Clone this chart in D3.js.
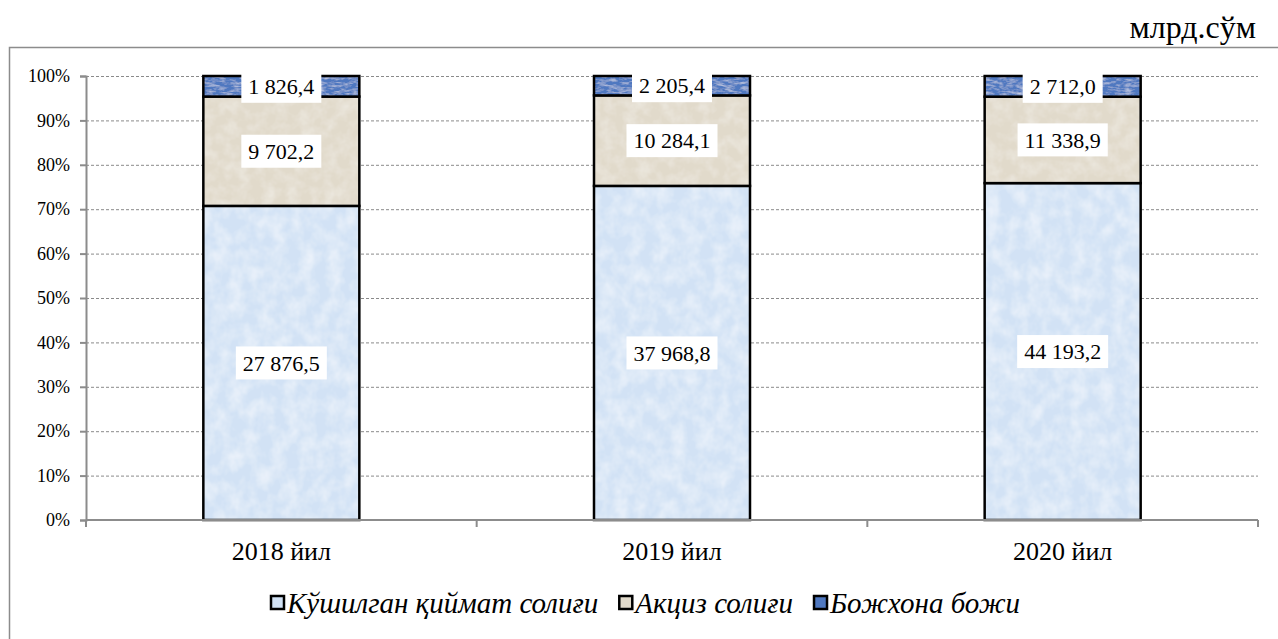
<!DOCTYPE html>
<html>
<head>
<meta charset="utf-8">
<script src="https://cdn.jsdelivr.net/npm/d3@7"></script>
<style>
  body { margin: 0; background: #fff; }
  svg text { font-family: "Liberation Serif", "Times New Roman", Times, serif; }
</style>
</head>
<body>
<div id="chart"></div>
<script>
// данные (млрд.сўм)
const years = ["2018 йил", "2019 йил", "2020 йил"];
const vatValues = [27876.5, 37968.8, 44193.2];
const exciseValues = [9702.2, 10284.1, 11338.9];
const customsValues = [1826.4, 2205.4, 2712.0];
const seriesNames = ["Кўшилган қиймат солиғи", "Акциз солиғи", "Божхона божи"];
const yTicks = [0, 0.1, 0.2, 0.3, 0.4, 0.5, 0.6, 0.7, 0.8, 0.9, 1];

const width = 1278, height = 639;
const margin = { left: 86, top: 76, bottom: 119 };
const plotRight = 1258;

const colors = ["#d2e2f5", "#e1dacb", "#4f78c0"];
const keys = ["vat", "excise", "customs"];

const table = years.map((y, i) => ({
  year: y, vat: vatValues[i], excise: exciseValues[i], customs: customsValues[i]
}));

const locale = d3.formatLocale({ decimal: ",", thousands: " ", grouping: [3], currency: ["", ""] });
const fmt = locale.format(",.1f");

const svg = d3.select("#chart").append("svg")
  .attr("width", width).attr("height", height);

// текстура заливки
const defs = svg.append("defs");
function noiseFilter(id, freq, alphaScale, alphaBias) {
  const f = defs.append("filter").attr("id", id)
    .attr("x", 0).attr("y", 0).attr("width", 1).attr("height", 1);
  f.append("feTurbulence").attr("type", "fractalNoise")
    .attr("baseFrequency", freq).attr("numOctaves", 3).attr("seed", 4).attr("result", "n");
  f.append("feColorMatrix").attr("in", "n").attr("type", "matrix")
    .attr("values", `0 0 0 0 1  0 0 0 0 1  0 0 0 0 1  0 0 0 ${alphaScale} ${alphaBias}`)
    .attr("result", "w");
  f.append("feComposite").attr("in", "w").attr("in2", "SourceGraphic").attr("operator", "in").attr("result", "t");
  const m = f.append("feMerge");
  m.append("feMergeNode").attr("in", "SourceGraphic");
  m.append("feMergeNode").attr("in", "t");
}
noiseFilter("tex0", "0.07 0.06", 0.9, -0.3);
noiseFilter("tex1", "0.08", 0.6, -0.22);
noiseFilter("tex2", "0.12 0.4", 1.0, -0.42);

// рамка
svg.append("rect")
  .attr("x", 9.5).attr("y", 47.5)
  .attr("width", 1400).attr("height", 800)
  .attr("fill", "none").attr("stroke", "#8c8c8c").attr("stroke-width", 1.5);

svg.append("text")
  .attr("x", 1256).attr("y", 38)
  .attr("text-anchor", "end")
  .style("font-size", "32px")
  .text("млрд.сўм");

const x = d3.scaleBand().domain(years).range([margin.left, plotRight]).paddingInner(0).paddingOuter(0);
const y = d3.scaleLinear().domain([0, 1]).range([height - margin.bottom, margin.top]);
const barW = 156;

// сетка
svg.append("g")
  .selectAll("line").data(yTicks.slice(1)).enter().append("line")
  .attr("x1", margin.left).attr("x2", plotRight)
  .attr("y1", d => y(d) + 0.5).attr("y2", d => y(d) + 0.5)
  .attr("stroke", "#8a8a8a").attr("stroke-width", 1).attr("stroke-dasharray", "3,2");

// столбцы
const stack = d3.stack().keys(keys).offset(d3.stackOffsetExpand);
const series = stack(table);

const layers = svg.append("g").selectAll("g").data(series).enter().append("g")
  .attr("fill", (d, i) => colors[i]);

layers.each(function (s, si) {
  d3.select(this).selectAll(".fill").data(s).enter().append("rect")
    .attr("class", "fill")
    .attr("x", d => x(d.data.year) + x.bandwidth() / 2 - barW / 2)
    .attr("y", d => y(d[1]))
    .attr("width", barW)
    .attr("height", d => y(d[0]) - y(d[1]))
    .attr("filter", `url(#tex${si})`);
});
layers.selectAll(".edge").data(d => d).enter().append("rect")
  .attr("class", "edge")
  .attr("x", d => x(d.data.year) + x.bandwidth() / 2 - barW / 2)
  .attr("y", d => y(d[1]))
  .attr("width", barW)
  .attr("height", d => y(d[0]) - y(d[1]))
  .attr("fill", "none")
  .attr("stroke", "#000").attr("stroke-width", 2.5);

// оси
const yAxis = svg.append("g")
  .attr("transform", `translate(${margin.left},0)`)
  .call(d3.axisLeft(y).tickValues(yTicks).tickFormat(d3.format(".0%")).tickSize(6).tickPadding(10));
yAxis.attr("font-family", null);
yAxis.select(".domain").attr("stroke", "#8c8c8c").attr("stroke-width", 2);
yAxis.selectAll(".tick line").attr("stroke", "#8c8c8c").attr("stroke-width", 2);
yAxis.selectAll("text").style("font-size", "18px").attr("fill", "#000");

const xAxisG = svg.append("g").attr("transform", `translate(0,${y(0)})`);
xAxisG.append("line")
  .attr("x1", margin.left).attr("x2", plotRight)
  .attr("stroke", "#8c8c8c").attr("stroke-width", 2);
const bounds = [margin.left].concat(years.map(d => x(d) + x.bandwidth()));
xAxisG.selectAll(".bt").data(bounds).enter().append("line")
  .attr("x1", d => d).attr("x2", d => d).attr("y1", 0).attr("y2", 7)
  .attr("stroke", "#8c8c8c").attr("stroke-width", 2);
xAxisG.selectAll(".cat").data(years).enter().append("text")
  .attr("x", d => x(d) + x.bandwidth() / 2)
  .attr("y", 40)
  .attr("text-anchor", "middle")
  .style("font-size", "26px")
  .text(d => d);

// подписи значений
const labels = [];
series.forEach((s, si) => {
  s.forEach(d => {
    labels.push({ year: d.data.year, value: d.data[keys[si]], mid: (y(d[0]) + y(d[1])) / 2 });
  });
});

const lg = svg.append("g").selectAll("g").data(labels).enter().append("g")
  .attr("transform", d => `translate(${x(d.year) + x.bandwidth() / 2},${d.mid})`);
lg.append("text")
  .attr("text-anchor", "middle")
  .attr("dy", "0.35em")
  .style("font-size", "22px")
  .text(d => fmt(d.value))
  .each(function () {
    const b = this.getBBox();
    d3.select(this.parentNode).insert("rect", "text")
      .attr("x", b.x - 7).attr("y", -16.5).attr("width", b.width + 14).attr("height", 33)
      .attr("fill", "#fff");
  });

// легенда — элементы подряд
const leg = svg.append("g").attr("transform", "translate(270,603)");
let cursor = 0;
seriesNames.forEach((name, i) => {
  const item = leg.append("g").attr("transform", `translate(${cursor},0)`);
  item.append("rect")
    .attr("x", 1).attr("y", -7).attr("width", 13).attr("height", 13)
    .attr("fill", colors[i]).attr("stroke", "#000").attr("stroke-width", 2.5);
  const t = item.append("text")
    .attr("x", 17).attr("dy", "0.35em")
    .style("font-size", "29px").style("font-style", "italic")
    .text(name);
  cursor += 17 + t.node().getComputedTextLength() + 20;
});
</script>
</body>
</html>
